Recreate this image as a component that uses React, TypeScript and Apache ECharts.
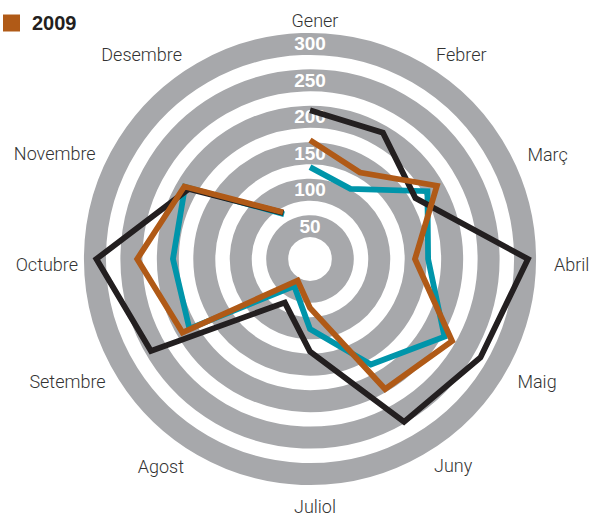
import React, { useEffect, useRef } from 'react';
import * as echarts from 'echarts';

const months = ['Gener', 'Febrer', 'Març', 'Abril', 'Maig', 'Juny', 'Juliol', 'Agost', 'Setembre', 'Octubre', 'Novembre', 'Desembre'];
const seriesNames = ['2007', '2008', '2009'];
const values2007 = [131, 116, 191, 167, 218, 172, 101, 48, 196, 193, 203, 76];
const values2008 = [209, 205, 172, 304, 275, 263, 132, 74, 257, 298, 197, 78];
const values2009 = [168, 142, 206, 149, 230, 211, 72, 39, 207, 242, 204, 79];
const ringLabels = [50, 100, 150, 200, 250, 300];

const RADIUS_MIN = 5;
const RADIUS_MAX = 315;
const STEP = 5;

const GRAY = '#a7a8ab';
const COLORS = ['#0095aa', '#231f20', '#b05a17'];

// small per-label nudges [dx, dy] (style only) for the month names
const LABEL_NUDGE: number[][] = [
  [0, 1], [3, 4], [8, 17], [3, -2], [-2, -10], [1, -12],
  [0, -3], [-13, -11], [-5, -10], [-1, -2], [-15, 16], [-15, 4],
];

export default function App() {
  const ref = useRef<HTMLDivElement>(null);
  useEffect(() => {
    if (!ref.current) return;
    const chart = echarts.init(ref.current, null, { renderer: 'svg' });
    const period = ringLabels[1] - ringLabels[0];
    const ringColors: string[] = [];
    for (let k = 0; k < period / STEP; k++) {
      const v = RADIUS_MIN + k * STEP;
      ringColors.push(v % period === 0 ? GRAY : 'rgba(0,0,0,0)');
    }
    const seriesValues = [values2007, values2008, values2009];
    const sliceAngle = 360 / months.length;
    const hidden = {
      axisLine: { show: false },
      axisTick: { show: false },
      axisLabel: { show: false },
      splitLine: { show: false },
      splitArea: { show: false },
    };
    const option: any = {
      animation: false,
      backgroundColor: '#ffffff',
      legend: {
        orient: 'vertical',
        left: 3,
        top: -50,
        padding: 0,
        itemGap: 11.5,
        itemWidth: 17,
        itemHeight: 17,
        icon: 'rect',
        selectedMode: false,
        data: seriesNames,
        textStyle: {
          fontFamily: 'Liberation Sans, Arial, sans-serif',
          fontWeight: 'bold',
          fontSize: 20,
          color: '#231f20',
          padding: [0, 0, 0, 7],
        },
      },
      polar: [
        { center: [310, 259], radius: 226 },
        { center: [310, 259], radius: 226 },
        { center: [315, 264], radius: 226 },
      ],
      angleAxis: [
        {
          polarIndex: 0,
          type: 'category',
          data: months,
          boundaryGap: true,
          startAngle: 90 + sliceAngle / 2,
          clockwise: true,
          ...hidden,
        },
        {
          polarIndex: 1,
          type: 'category',
          data: months,
          boundaryGap: false,
          startAngle: 90,
          clockwise: true,
          ...hidden,
        },
        {
          polarIndex: 2,
          type: 'category',
          data: months.map((m, i) => ({
            value: m,
            textStyle: {
              padding: [LABEL_NUDGE[i][1], -LABEL_NUDGE[i][0], -LABEL_NUDGE[i][1], LABEL_NUDGE[i][0]],
            },
          })),
          boundaryGap: false,
          startAngle: 90,
          clockwise: true,
          axisLine: { show: false },
          axisTick: { show: false },
          splitLine: { show: false },
          splitArea: { show: false },
          axisLabel: {
            interval: 0,
            margin: 10,
            fontFamily: 'Roboto, Liberation Sans, sans-serif',
            fontWeight: 300,
            fontSize: 18,
            color: '#333333',
          },
        },
      ],
      radiusAxis: [
        {
          polarIndex: 0,
          type: 'value',
          min: RADIUS_MIN,
          max: RADIUS_MAX,
          interval: STEP,
          axisLine: { show: false },
          axisTick: { show: false },
          axisLabel: { show: false },
          splitArea: { show: false },
          splitLine: { show: true, lineStyle: { width: 22, color: ringColors, type: 'solid' } },
        },
        {
          polarIndex: 1,
          type: 'value',
          min: RADIUS_MIN,
          max: RADIUS_MAX,
          interval: STEP,
          z: 1,
          axisLine: { show: false },
          axisTick: { show: false },
          splitArea: { show: false },
          splitLine: { show: false },
          axisLabel: {
            show: true,
            margin: 0,
            align: 'center',
            verticalAlign: 'middle',
            color: '#ffffff',
            fontWeight: 'bold',
            fontSize: 19,
            fontFamily: 'Liberation Sans, Arial, sans-serif',
            formatter: (v: number) => (ringLabels.indexOf(Math.round(v)) >= 0 ? String(Math.round(v)) : ''),
          },
        },
        {
          polarIndex: 2,
          type: 'value',
          min: 0,
          max: 300,
          show: false,
          ...hidden,
        },
      ],
      series: seriesNames.map((name, i) => ({
        name,
        type: 'line',
        coordinateSystem: 'polar',
        polarIndex: 0,
        symbol: 'none',
        smooth: false,
        z: 3 + i,
        itemStyle: { color: COLORS[i] },
        lineStyle: { color: COLORS[i], width: 5.8, join: 'miter', cap: 'butt' },
        data: seriesValues[i].map((v, j) => [v, months[j]]),
      })),
    };
    chart.setOption(option);
    return () => chart.dispose();
  }, []);
  return <div ref={ref} style={{ position: 'absolute', left: 0, top: 0, width: 599, height: 518 }} />;
}
